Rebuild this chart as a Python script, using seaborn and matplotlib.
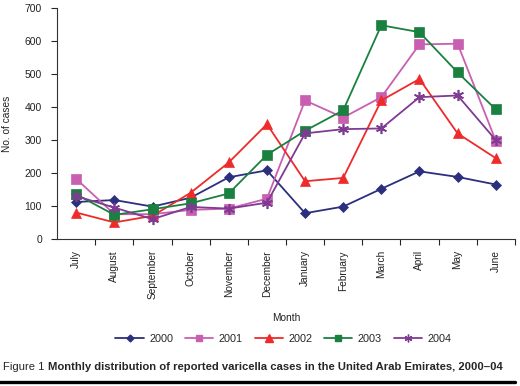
import pandas as pd
import numpy as np
import matplotlib
matplotlib.use('Agg')
import matplotlib.pyplot as plt
import seaborn as sns
from matplotlib.lines import Line2D

# Données
months = ['July', 'August', 'September', 'October', 'November', 'December',
          'January', 'February', 'March', 'April', 'May', 'June']
years = ['2000', '2001', '2002', '2003', '2004']
cases_2000 = [112, 118, 98, 125, 187, 208, 78, 98, 152, 205, 188, 165]
cases_2001 = [182, 75, 75, 88, 92, 122, 420, 368, 430, 590, 592, 298]
cases_2002 = [80, 50, 70, 140, 232, 348, 175, 185, 420, 485, 320, 245]
cases_2003 = [135, 73, 90, 108, 138, 255, 328, 390, 648, 627, 505, 393]
cases_2004 = [130, 95, 60, 97, 92, 110, 320, 333, 335, 430, 435, 300]

colors = ['#2b2f7e', '#c95fb0', '#ee2a2a', '#1a8040', '#7f3a92']
markers = ['D', 's', '^', 's', (6, 2, 0)]
sizes = [5, 7, 7.5, 7, 8]

df = pd.DataFrame({'Month': months * 5,
                   'Year': np.repeat(years, 12),
                   'Cases': cases_2000 + cases_2001 + cases_2002 + cases_2003 + cases_2004})

sns.set_style('ticks')
plt.rcParams['font.family'] = ['Liberation Sans', 'DejaVu Sans']

fig = plt.figure(figsize=(5.2, 3.86), dpi=100)
ax = fig.add_axes([0.11, 0.381, 0.88, 0.598])

x = np.arange(len(months))
for yr, c, m, s in zip(years, colors, markers, sizes):
    sub = df[df['Year'] == yr]
    sns.lineplot(x=x, y=sub['Cases'].values, ax=ax, color=c, marker=m,
                 markersize=s, markeredgecolor=c, markeredgewidth=1.2 if m == (6, 2, 0) else 0.5,
                 linewidth=1.3, label=yr, legend=False)

ax.set_xlim(-0.5, 11.5)
ax.set_ylim(0, 700)
ax.set_yticks(range(0, 701, 100))
ax.set_xticks(x)
ax.set_xticklabels(months, rotation=90, fontsize=7.3, color='#222222')
ax.set_xticks(np.arange(0.5, 11.6, 1), minor=True)
ax.tick_params(axis='x', which='major', length=0, pad=8)
ax.tick_params(axis='x', which='minor', length=4, width=0.8)
ax.tick_params(axis='y', labelsize=7.5, length=4, width=0.8, pad=7, labelcolor='#222222')
ax.set_xlabel('Month', fontsize=7.3, labelpad=10, color='#222222')
ax.set_ylabel('No. of cases', fontsize=7.3, color='#222222', labelpad=9)
sns.despine(ax=ax)
for sp in ['left', 'bottom']:
    ax.spines[sp].set_linewidth(0.8)
    ax.spines[sp].set_color('#333333')

handles = [Line2D([0], [0], color=c, marker=m, markersize=s * 0.7, markeredgecolor=c,
                  linewidth=1.3) for c, m, s in zip(colors, markers, sizes)]
fig.legend(handles, years, loc='center', bbox_to_anchor=(0.545, 0.122), ncol=5,
           frameon=False, fontsize=7.8, handlelength=2.6, columnspacing=1.1, handletextpad=0.5)

# Légende de la figure
t1 = fig.text(0.006, 0.048, 'Figure 1 ', fontsize=8.1, va='center')
fig.canvas.draw()
bb = t1.get_window_extent()
fig.text(bb.x1 / fig.bbox.width, 0.048,
         'Monthly distribution of reported varicella cases in the United Arab Emirates, 2000\u201304',
         fontsize=8.1, fontweight='bold', va='center')
fig.add_artist(Line2D([0.0, 0.99], [0.01, 0.01], color='black', linewidth=2.4,
                      transform=fig.transFigure))

plt.savefig('out.png', dpi=100)
